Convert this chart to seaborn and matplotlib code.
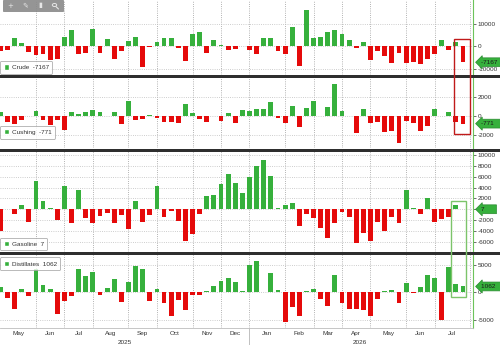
import numpy as np
import pandas as pd
import seaborn as sns
import matplotlib.pyplot as plt
from matplotlib.patches import Patch, Rectangle, Circle
from matplotlib.lines import Line2D
import matplotlib.transforms as mtransforms

# weekly changes (thousand barrels), weeks ending Friday
weeks = pd.date_range('2025-05-02', '2026-07-31', freq='W-FRI')

crude = [-2200, -1800, 3700, 1500, -2500, -4000, -3400, -6000, -5500, 4200,
         7200, -3600, -2800, 7900, -2800, 3300, -5700, -2200, 2500, 4200,
         -9100, -300, 1800, 3700, 3600, -700, -6700, 5400, 6600, -3100,
         3000, 700, -1500, -1200, 400, -1800, -3600, 3600, 3700, -1900,
         -3300, 8700, -9000, 16300, 3700, 4200, 6300, 7200, 5700, 3100,
         -600, 1900, -6000, -1900, -4200, -7600, -3000, -7600, -7000, -8100,
         -5700, -3400, 3100, -1500, 1900, -7167]
cushing = [500, -630, -840, -420, 50, 600, -390, -880, -420, -1400,
           460, 250, 460, 670, 490, 30, 460, -800, 1580, -350,
           -320, 180, -210, -630, -600, -700, 1330, 320, -320, -600,
           20, -460, 320, -670, 670, 530, 740, 740, 1470, -210,
           -670, 1050, -1090, 880, 1580, 50, 950, 3400, 530, 20,
           -1750, 770, -750, -650, -1680, -1580, -2800, -530, -750, -1580,
           -1000, 740, 20, 420, -630, -771]
gasoline = [-4000, 100, -900, 850, -2300, 5300, 1600, 250, -2000, 4300,
            -2500, 3500, -1600, -2600, -1200, -730, -2600, -1000, -3700, 1500,
            -2250, -1000, 4200, -1500, -250, -2100, -5900, -4600, -800, 2400,
            2600, 4600, 6500, 4900, 3000, 6000, 7900, 9000, 6100, 250,
            800, 1200, -3000, -900, -1650, -3500, -5300, -2450, -430, -1400,
            -6200, -4400, -5900, -2400, -4000, -1350, -2450, 3500, 150, -800,
            2100, -2250, -1800, -1350, 800, 7]
distillates = [1000, -1000, -3100, 670, -600, 4200, 1330, 600, -3900, -1650,
               -670, 4250, 3000, 3750, -500, 800, 2500, -1750, 1800, 4850,
               4200, -1650, 670, -1900, -4400, -1330, -3200, -550, -550, 250,
               1200, 2100, 2600, 1800, 300, 5000, 5700, 50, 3450, 400,
               -5450, -2600, -4400, 300, 550, -1270, -2400, 3100, -2000, -3000,
               -3000, -3300, -4300, -1150, 250, 400, -2000, 1650, -120, 1000,
               3150, 2600, -5000, 4650, 1500, 1062]

names = ['Crude', 'Cushing', 'Gasoline', 'Distillates']
series = [crude, cushing, gasoline, distillates]
last_labels = ['-7167', '-771', '7', '1062']
yticks = [[10000, 0, -10000], [2000, 0, -2000],
          [10000, 8000, 6000, 4000, 2000, 0, -2000, -4000, -6000],
          [5000, 0, -5000]]

GREEN = '#36b03c'
RED = '#e50a0a'
W, H = 500, 345

sns.set_style('white')
plt.rcParams['font.family'] = ['Liberation Sans', 'DejaVu Sans']
FS = 4.6

fig = plt.figure(figsize=(W / 100, H / 100), dpi=100)

# panel pixel rows (top, bottom), y limits, legend anchor
panels = [(0, 74.5, (-12690, 20940), 0.01),
          (77.5, 148.5, (-3390, 4084), 0.14),
          (151, 251.5, (-7772, 10737), 0.01),
          (254, 328, (-6491, 6964), None)]

n = len(weeks)
month_start = [i for i in range(1, n) if weeks[i].month != weeks[i - 1].month] + [n]
bounds = [0] + month_start
month_mid = [(a + b) / 2 for a, b in zip(bounds[:-1], bounds[1:])]
month_lab = [weeks[a].strftime('%b') for a in bounds[:-1]]

axes = []
for k, (top, bot, ylim, leg_y) in enumerate(panels):
    ax = fig.add_axes([0, 1 - bot / H, 473 / W, (bot - top) / H])
    axes.append(ax)
    vals = np.array(series[k])
    df = pd.DataFrame({'week': np.arange(n), 'value': vals,
                       'sign': np.where(vals >= 0, 'up', 'down')})
    sns.barplot(data=df, x='week', y='value', hue='sign',
                palette={'up': GREEN, 'down': RED}, dodge=False, width=0.68,
                saturation=1, linewidth=0, legend=False, native_scale=True,
                ax=ax, zorder=3)
    ax.set_xlim(-0.05, 66.4)
    ax.set_ylim(*ylim)
    ax.set_xlabel('')
    ax.set_ylabel('')
    ax.yaxis.tick_right()
    ax.set_yticks(yticks[k])
    ax.set_yticklabels([str(t) for t in yticks[k]])
    ax.tick_params(axis='y', labelsize=FS, colors='#333333', length=2,
                   width=0.5, pad=1.5)
    ax.set_xticks(month_start)
    ax.tick_params(axis='x', length=0, labelbottom=False)
    ax.grid(axis='y', ls=':', color='#bdbdbd', lw=0.6)
    ax.grid(axis='x', ls=':', color='#9a9a9a', lw=0.6)
    ax.set_axisbelow(True)
    for s in ['top', 'left', 'bottom']:
        ax.spines[s].set_visible(False)
    ax.spines['right'].set_color('#6cc35a')
    ax.spines['right'].set_linewidth(0.8)

    # legend box
    loc = 'lower left' if leg_y is not None else 'upper left'
    anchor = (0, leg_y) if leg_y is not None else (0, 0.955)
    leg = ax.legend(handles=[Patch(fc=GREEN, label=f'{names[k]}  {last_labels[k]}')],
                    loc=loc, bbox_to_anchor=anchor, borderaxespad=0,
                    fontsize=FS, frameon=True, fancybox=True, framealpha=0.8,
                    edgecolor='#9a9a9a', handlelength=0.9, handleheight=0.9,
                    handletextpad=0.4, borderpad=0.55)
    leg.get_frame().set_linewidth(0.6)
    for t in leg.get_texts():
        t.set_color('#333333')

    # last value tag on the right axis (runs off the right edge)
    trans = mtransforms.blended_transform_factory(ax.transAxes, ax.transData)
    ax.text(1.016, vals[-1], last_labels[k].ljust(7), transform=trans, ha='left',
            va='center', fontsize=FS, color='#1a1a1a', clip_on=False, zorder=10,
            bbox=dict(boxstyle='larrow,pad=0.3', fc=GREEN, ec='#2a8a30', lw=0.5))

# bottom axis: month and year labels
ax = axes[-1]
ax.spines['bottom'].set_visible(True)
ax.spines['bottom'].set_color('#bdbdbd')
ax.spines['bottom'].set_linewidth(0.6)
ax.tick_params(axis='x', which='major', length=3, width=0.5, color='#9a9a9a')
ax.set_xticks(month_mid, minor=True)
ax.set_xticklabels(month_lab, minor=True)
ax.tick_params(axis='x', which='minor', length=0, labelsize=FS,
               colors='#333333', pad=2.3)
for y in [2025, 2026]:
    idx = [i for i in range(n) if weeks[i].year == y]
    ax.text((idx[0] + idx[-1] + 1) / 2, -14.2 / 74, str(y),
            transform=ax.get_xaxis_transform(),
            ha='center', va='center', fontsize=FS, color='#333333')
jan = [i for i in range(n) if weeks[i].year == 2026][0]
ax.add_line(Line2D([jan, jan], [0, -17 / 74], transform=ax.get_xaxis_transform(),
                   color='#b5b5b5', lw=0.6, clip_on=False))

# panel separators
for yb in [74.5, 148.5, 251.5]:
    fig.add_artist(Rectangle((0, 1 - (yb + 3) / H), 1, 3 / H,
                             transform=fig.transFigure, fc='#2e2e2e', ec='none'))

# highlight boxes
fig.add_artist(Rectangle((454 / W, 1 - 133.5 / H), 15.5 / W, 95 / H,
                         transform=fig.transFigure, fill=False, ec='#c01a1a',
                         lw=1.0, zorder=20))
fig.add_artist(Rectangle((451 / W, 1 - 297.3 / H), 15 / W, 96.3 / H,
                         transform=fig.transFigure, fill=False, ec='#7cc46a',
                         lw=1.0, zorder=20))

# toolbar overlay
fig.add_artist(Rectangle((3 / W, 1 - 11 / H), 60 / W, 11 / H,
                         transform=fig.transFigure, fc='#8a8a8a', ec='#777777',
                         lw=0.5, alpha=0.9, zorder=20))
for xi, sym in zip([10, 25.5, 40.5], ['+', '\u270e', '\u25ae']):
    fig.text(xi / W, 1 - 5.5 / H, sym, ha='center', va='center', fontsize=5,
             color='#e6e6e6', zorder=21, family=['DejaVu Sans'])
# magnifier icon drawn as shape
fig.add_artist(Circle((54.5 / W, 1 - 5 / H), 2.2 / W, transform=fig.transFigure,
                      fill=False, ec='#e6e6e6', lw=0.7, zorder=21))
fig.add_artist(Line2D([56 / W, 58.5 / W], [1 - 6.6 / H, 1 - 9 / H],
                      transform=fig.transFigure, color='#e6e6e6', lw=0.8, zorder=21))

fig.savefig('out.png', dpi=100)
